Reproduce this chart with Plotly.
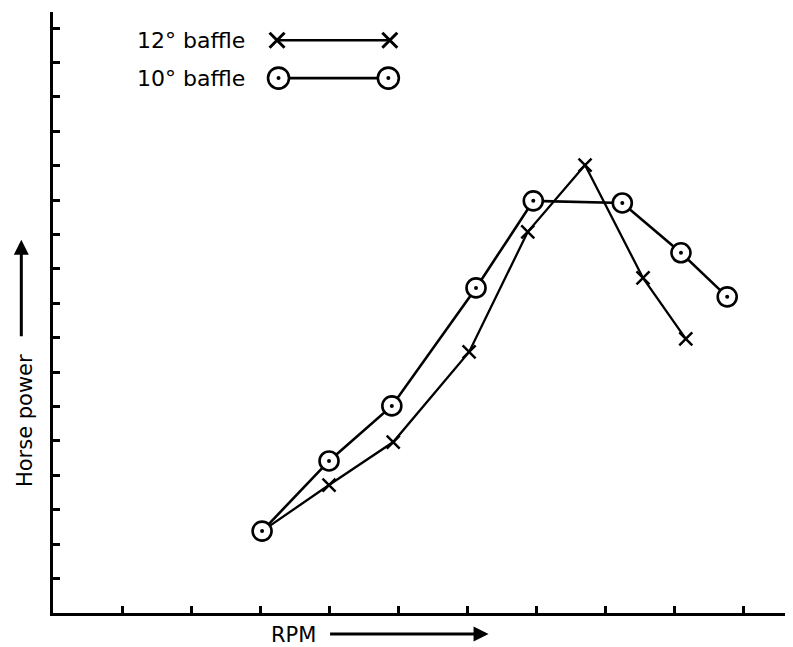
import plotly.graph_objects as go

# RPM / horse power readings (axis units = tick intervals, no labelled scale)
rpm_12 = [3.03, 4.0, 4.93, 6.03, 6.88, 7.71, 8.55, 9.17]
hp_12 = [2.38, 3.72, 4.97, 7.59, 11.08, 13.02, 9.74, 7.97]

rpm_10 = [3.03, 4.0, 4.91, 6.13, 6.96, 8.25, 9.10, 9.77]
hp_10 = [2.38, 4.42, 6.02, 9.45, 11.98, 11.92, 10.47, 9.19]

x_ticks = list(range(0, 11))
y_ticks = list(range(0, 18))

font = "DejaVu Sans"
ink = "black"

fig = go.Figure()

fig.add_trace(
    go.Scatter(
        x=rpm_12,
        y=hp_12,
        mode="lines+markers",
        name="12° baffle",
        line=dict(color=ink, width=2.3),
        marker=dict(symbol="x-thin", size=13, line=dict(color=ink, width=2.5)),
        cliponaxis=False,
    )
)
fig.add_trace(
    go.Scatter(
        x=rpm_10,
        y=hp_10,
        mode="lines+markers",
        name="10° baffle",
        line=dict(color=ink, width=2.6),
        marker=dict(symbol="circle", size=19, color="white",
                    line=dict(color=ink, width=2.6)),
        cliponaxis=False,
    )
)
# centre dots of the ringed markers
fig.add_trace(
    go.Scatter(
        x=rpm_10, y=hp_10, mode="markers", showlegend=False,
        marker=dict(symbol="circle", size=4, color=ink), cliponaxis=False,
    )
)

# hand-drawn style key, on an overlay axis running 0..1 across the plot
fig.add_trace(
    go.Scatter(
        x=[0.304, 0.457], y=[0.953, 0.953], xaxis="x2", yaxis="y2",
        mode="lines+markers", showlegend=False,
        line=dict(color=ink, width=2.6),
        marker=dict(symbol="x-thin", size=15, line=dict(color=ink, width=3)),
        cliponaxis=False,
    )
)
fig.add_trace(
    go.Scatter(
        x=[0.306, 0.455], y=[0.890, 0.890], xaxis="x2", yaxis="y2",
        mode="lines+markers", showlegend=False,
        line=dict(color=ink, width=2.6),
        marker=dict(symbol="circle", size=21, color="white",
                    line=dict(color=ink, width=2.6)),
        cliponaxis=False,
    )
)
fig.add_trace(
    go.Scatter(
        x=[0.306, 0.455], y=[0.890, 0.890], xaxis="x2", yaxis="y2",
        mode="markers", showlegend=False,
        marker=dict(symbol="circle", size=4, color=ink), cliponaxis=False,
    )
)

for txt, yy in [("12° baffle", 0.953), ("10° baffle", 0.890)]:
    fig.add_annotation(
        x=0.111, y=yy, xref="paper", yref="paper", text=txt, showarrow=False,
        xanchor="left", yanchor="middle", font=dict(family=font, size=22, color=ink),
    )

# axis captions with arrows
fig.add_annotation(
    x=-0.038, y=0.321, xref="paper", yref="paper", text="Horse power",
    textangle=-90, showarrow=False, xanchor="center", yanchor="middle",
    font=dict(family=font, size=21, color=ink),
)
fig.add_annotation(
    x=-0.043, y=0.621, xref="paper", yref="paper", text="", showarrow=True,
    ax=0, ay=98, arrowhead=2, arrowsize=1, arrowwidth=3, arrowcolor=ink,
)
fig.add_annotation(
    x=0.327, y=-0.037, xref="paper", yref="paper", text="RPM",
    showarrow=False, xanchor="center", yanchor="middle",
    font=dict(family=font, size=21, color=ink),
)
fig.add_annotation(
    x=0.591, y=-0.035, xref="paper", yref="paper", text="", showarrow=True,
    ax=-160, ay=0, arrowhead=2, arrowsize=1, arrowwidth=3, arrowcolor=ink,
)

axis_common = dict(
    showgrid=False, zeroline=False, showline=True, linecolor=ink, linewidth=2.5,
    ticks="inside", ticklen=7, tickwidth=2.5, tickcolor=ink, showticklabels=False,
)

# the page body adds an 8px offset, so the figure is shrunk by that much and
# margins trimmed to land the axes where the original has them
fig.update_layout(
    width=785,
    height=639,
    margin=dict(l=45, r=3, t=4, b=34),
    paper_bgcolor="white",
    plot_bgcolor="white",
    showlegend=False,
    xaxis=dict(range=[0, 10.68], tickvals=x_ticks, **axis_common),
    yaxis=dict(range=[0, 17.47], tickvals=y_ticks, **axis_common),
    xaxis2=dict(overlaying="x", range=[0, 1], visible=False),
    yaxis2=dict(overlaying="y", range=[0, 1], visible=False),
)

fig.write_html("out.html")
